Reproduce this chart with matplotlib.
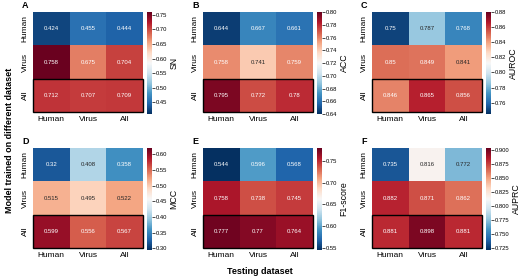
import numpy as np
import matplotlib
matplotlib.use('Agg')
import matplotlib.pyplot as plt
import seaborn as sns
from matplotlib.patches import Rectangle
from matplotlib.ticker import MultipleLocator

plt.rcParams['font.family'] = ['Liberation Sans', 'DejaVu Sans']

labels = ['Human', 'Virus', 'All']

sn    = [[0.424, 0.455, 0.444], [0.758, 0.675, 0.704], [0.712, 0.707, 0.709]]
acc   = [[0.644, 0.667, 0.661], [0.758, 0.741, 0.759], [0.795, 0.772, 0.78]]
auroc = [[0.75, 0.787, 0.768], [0.85, 0.849, 0.841], [0.846, 0.865, 0.856]]
mcc   = [[0.32, 0.408, 0.358], [0.515, 0.495, 0.522], [0.599, 0.556, 0.567]]
f1    = [[0.544, 0.596, 0.568], [0.758, 0.738, 0.745], [0.777, 0.77, 0.764]]
auprc = [[0.735, 0.816, 0.772], [0.882, 0.871, 0.862], [0.881, 0.898, 0.881]]

# colour limits and tick step
panels = [('A', sn, 'SN', 0.41, 0.76, 0.05),
          ('B', acc, 'ACC', 0.64, 0.80, 0.02),
          ('C', auroc, 'AUROC', 0.745, 0.88, 0.02),
          ('D', mcc, 'MCC', 0.295, 0.62, 0.05),
          ('E', f1, 'F1-score', 0.545, 0.78, 0.05),
          ('F', auprc, 'AUPRC', 0.722, 0.903, 0.025)]

W, H = 520., 280.
lefts = [33, 203, 372]
tops = [12, 148]
hw, hh = 110, 100

fig = plt.figure(figsize=(5.2, 2.8), dpi=100)

for i, (tag, data, name, lo, hi, step) in enumerate(panels):
    r, c = divmod(i, 3)
    x0 = lefts[c]
    y0 = tops[r]
    ax = fig.add_axes([x0 / W, 1 - (y0 + hh) / H, hw / W, hh / H])
    cax = fig.add_axes([(x0 + hw + 4) / W, 1 - (y0 + hh + 2) / H, 5 / W, (hh + 2) / H])
    sns.heatmap(np.array(data), ax=ax, cbar_ax=cax, cmap='RdBu_r', vmin=lo, vmax=hi,
                annot=True, fmt='g', annot_kws={'fontsize': 4.3},
                xticklabels=labels, yticklabels=labels)
    ax.tick_params(length=0, labelsize=6, pad=3)
    ax.set_xticklabels(labels, rotation=0)
    ax.set_yticklabels(labels, rotation=90, va='center')
    ax.add_patch(Rectangle((0, 2), 3, 1, fill=False, edgecolor='black', lw=1.0, clip_on=False))
    cax.yaxis.set_major_locator(MultipleLocator(step))
    cax.tick_params(labelsize=4.2, length=2, width=0.5, pad=1)
    cax.set_ylabel(name, fontsize=6.3, labelpad=1.5)
    for s in cax.spines.values():
        s.set_visible(False)
    fig.text((x0 - 11) / W, 1 - (y0 - 6) / H, tag, fontsize=6.5, fontweight='bold',
             ha='left', va='center')

fig.text(10 / W, 1 - 140 / H, 'Model trained on different dataset', rotation=90, fontsize=6.5,
         fontweight='bold', ha='center', va='center')
fig.text(260 / W, 1 - 272 / H, 'Testing dataset', fontsize=6.5, fontweight='bold',
         ha='center', va='center')

plt.savefig('out.png', dpi=100)
